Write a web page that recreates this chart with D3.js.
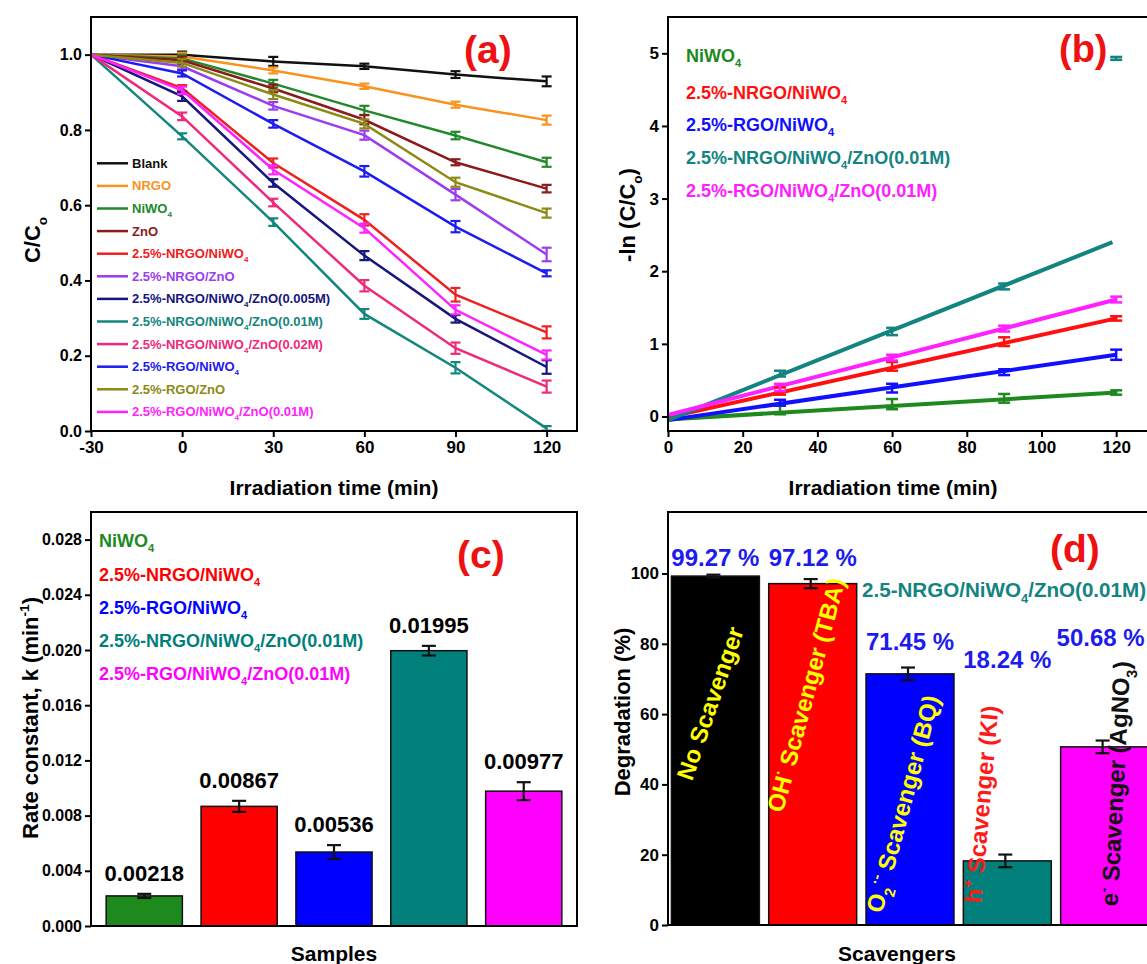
<!DOCTYPE html>
<html>
<head>
<meta charset="utf-8">
<script src="https://cdn.jsdelivr.net/npm/d3@7"></script>
<style>
  body { margin: 0; background: #fff; }
  text { font-family: "Liberation Sans", Arial, sans-serif; font-weight: bold; }
</style>
</head>
<body>
<svg id="chart" width="1147" height="964"></svg>
<script>
// ---------- (a) C/Co vs irradiation time ----------
const timesA = [-30, 0, 30, 60, 90, 120];
const namesA = [
  "Blank", "NRGO", "NiWO_{4}", "ZnO", "2.5%-NRGO/NiWO_{4}", "2.5%-NRGO/ZnO",
  "2.5%-NRGO/NiWO_{4}/ZnO(0.005M)", "2.5%-NRGO/NiWO_{4}/ZnO(0.01M)",
  "2.5%-NRGO/NiWO_{4}/ZnO(0.02M)", "2.5%-RGO/NiWO_{4}", "2.5%-RGO/ZnO",
  "2.5%-RGO/NiWO_{4}/ZnO(0.01M)"
];
const blank        = [1, 1.000, 0.982, 0.969, 0.947, 0.929];
const nrgo         = [1, 0.995, 0.958, 0.916, 0.867, 0.826];
const niwo4        = [1, 0.990, 0.923, 0.852, 0.785, 0.714];
const zno          = [1, 0.985, 0.910, 0.827, 0.714, 0.644];
const nrgoNiwo4    = [1, 0.911, 0.712, 0.561, 0.362, 0.262];
const nrgoZno      = [1, 0.969, 0.864, 0.786, 0.628, 0.469];
const ternary005   = [1, 0.889, 0.659, 0.466, 0.298, 0.170];
const ternary01    = [1, 0.783, 0.555, 0.311, 0.168, 0.007];
const ternary02    = [1, 0.836, 0.607, 0.386, 0.220, 0.118];
const rgoNiwo4     = [1, 0.950, 0.816, 0.690, 0.543, 0.419];
const rgoZno       = [1, 0.978, 0.894, 0.816, 0.661, 0.579];
const rgoTernary   = [1, 0.905, 0.694, 0.539, 0.322, 0.202];

const blankErr      = [0, 0.008, 0.012, 0.007, 0.009, 0.013];
const nrgoErr       = [0, 0.010, 0.008, 0.007, 0.008, 0.012];
const niwo4Err      = [0, 0.010, 0.010, 0.012, 0.010, 0.012];
const znoErr        = [0, 0.010, 0.010, 0.012, 0.008, 0.010];
const nrgoNiwo4Err  = [0, 0.008, 0.012, 0.015, 0.018, 0.016];
const nrgoZnoErr    = [0, 0.008, 0.010, 0.012, 0.015, 0.018];
const ternary005Err = [0, 0.012, 0.010, 0.012, 0.010, 0.018];
const ternary01Err  = [0, 0.008, 0.010, 0.013, 0.015, 0.006];
const ternary02Err  = [0, 0.010, 0.010, 0.015, 0.015, 0.016];
const rgoNiwo4Err   = [0, 0.008, 0.010, 0.014, 0.015, 0.008];
const rgoZnoErr     = [0, 0.010, 0.012, 0.012, 0.012, 0.012];
const rgoTernaryErr = [0, 0.010, 0.012, 0.012, 0.012, 0.012];

const valuesA = [blank, nrgo, niwo4, zno, nrgoNiwo4, nrgoZno, ternary005, ternary01, ternary02, rgoNiwo4, rgoZno, rgoTernary];
const errorsA = [blankErr, nrgoErr, niwo4Err, znoErr, nrgoNiwo4Err, nrgoZnoErr, ternary005Err, ternary01Err, ternary02Err, rgoNiwo4Err, rgoZnoErr, rgoTernaryErr];
const xTicksA = [-30, 0, 30, 60, 90, 120];
const yTicksA = [0, 0.2, 0.4, 0.6, 0.8, 1.0];

// ---------- (b) pseudo-first-order kinetics ----------
const timesB = [30, 60, 90, 120];
const namesB = ["NiWO_{4}", "2.5%-NRGO/NiWO_{4}", "2.5%-RGO/NiWO_{4}", "2.5%-NRGO/NiWO_{4}/ZnO(0.01M)", "2.5%-RGO/NiWO_{4}/ZnO(0.01M)"];
const lnNiwo4      = [0.09, 0.17, 0.25, 0.33];
const lnNrgoNiwo4  = [0.35, 0.69, 1.03, 1.35];
const lnRgoNiwo4   = [0.19, 0.39, 0.61, 0.85];
const lnTernary01  = [0.59, 1.17, 1.79, 4.93];
const lnRgoTernary = [0.40, 0.81, 1.21, 1.61];
const lnNiwo4Err      = [0.06, 0.07, 0.06, 0.03];
const lnNrgoNiwo4Err  = [0.05, 0.06, 0.06, 0.03];
const lnRgoNiwo4Err   = [0.04, 0.06, 0.04, 0.07];
const lnTernary01Err  = [0.04, 0.05, 0.04, 0.02];
const lnRgoTernaryErr = [0.05, 0.04, 0.04, 0.04];
const valuesB = [lnNiwo4, lnNrgoNiwo4, lnRgoNiwo4, lnTernary01, lnRgoTernary];
const errorsB = [lnNiwo4Err, lnNrgoNiwo4Err, lnRgoNiwo4Err, lnTernary01Err, lnRgoTernaryErr];
// linear fits: value at t = 0 and at the end time
const fitStart   = [-0.04, -0.01, -0.05, -0.05, 0.02];
const fitEnd     = [0.33, 1.35, 0.85, 2.40, 1.61];
const fitEndTime = [120, 120, 120, 119, 120];
const xTicksB = [0, 20, 40, 60, 80, 100, 120];
const yTicksB = [0, 1, 2, 3, 4, 5];

// ---------- (c) rate constants ----------
const samplesC = ["NiWO_{4}", "2.5%-NRGO/NiWO_{4}", "2.5%-RGO/NiWO_{4}", "2.5%-NRGO/NiWO_{4}/ZnO(0.01M)", "2.5%-RGO/NiWO_{4}/ZnO(0.01M)"];
const rateK    = [0.00218, 0.00867, 0.00536, 0.01995, 0.00977];
const rateKErr = [0.00015, 0.00040, 0.00050, 0.00035, 0.00065];
const rateLabels = ["0.00218", "0.00867", "0.00536", "0.01995", "0.00977"];
const yTicksC = [0, 0.004, 0.008, 0.012, 0.016, 0.020, 0.024, 0.028];

// ---------- (d) scavenger tests ----------
const scavengers = ["No Scavenger", "OH^{·} Scavenger (TBA)", "O_{2}^{·-} Scavenger (BQ)", "h^{+} Scavenger (KI)", "e^{-} Scavenger (AgNO_{3})"];
const degradation    = [99.27, 97.12, 71.45, 18.24, 50.68];
const degradationErr = [0.4, 1.3, 1.8, 1.8, 1.8];
const degradationLabels = ["99.27 %", "97.12 %", "71.45 %", "18.24 %", "50.68 %"];
const yTicksD = [0, 20, 40, 60, 80, 100];

// ---------- styling ----------
const colorsA = ["#111111", "#f7931e", "#22892a", "#8b1a1a", "#ee2020", "#9b3cf0",
                 "#16167e", "#13867e", "#ee2a7b", "#1c1cf0", "#8a8a14", "#ff22ff"];
const colorsB = ["#1e8a1e", "#ff1010", "#1010ff", "#138480", "#ff20ff"];
const colorsC = ["#1e8a1e", "#ff0000", "#0000ff", "#007f7b", "#ff00ff"];
const colorsD = ["#000000", "#ff0000", "#0000ff", "#007f7b", "#ff00ff"];
const insideColorsD = ["#ffff00", "#ffff00", "#ffff00", "#ff1a1a", "#111111"];
const insideAngles = [-71, -75, -75, -85, -87];
const insideCenters = [[718, 706], [814, 697], [911, 806], [990, 805], [1124, 784]];
const valueLabelY = [566, 566, 650, 668, 646];
const valueLabelDX = [0, 0, 0, 0, -4];

const svg = d3.select("#chart");

// text with _{sub} and ^{sup} markup
function rich(sel, str, size) {
  const parts = str.split(/(_\{[^}]*\}|\^\{[^}]*\})/).filter(s => s.length);
  let shift = 0;
  parts.forEach(p => {
    let target = 0, content = p, fs = size;
    if (p.startsWith("_{")) { target = 0.3 * size; content = p.slice(2, -1); fs = size * 0.62; }
    else if (p.startsWith("^{")) { target = -0.42 * size; content = p.slice(2, -1); fs = size * 0.62; }
    sel.append("tspan").attr("dy", target - shift).attr("font-size", fs).text(content);
    shift = target;
  });
  return sel;
}

function label(g, x, y, str, size, opts = {}) {
  const t = g.append("text")
    .attr("transform", `translate(${x},${y})` + (opts.rotate ? ` rotate(${opts.rotate})` : ""))
    .attr("text-anchor", opts.anchor || "start")
    .attr("fill", opts.fill || "#000")
    .attr("font-size", size);
  rich(t, str, size);
  return t;
}

function frame(g, box) {
  g.append("rect").attr("x", box.l).attr("y", box.t)
    .attr("width", box.r - box.l).attr("height", box.b - box.t)
    .attr("fill", "none").attr("stroke", "#000").attr("stroke-width", 2);
}

function styleAxis(sel, size) {
  sel.select(".domain").remove();
  sel.selectAll(".tick line").attr("stroke", "#000").attr("stroke-width", 2);
  sel.selectAll(".tick text").attr("font-size", size).attr("fill", "#000")
    .attr("font-family", "Liberation Sans, Arial, sans-serif").attr("font-weight", "bold");
}

function errorBar(g, x, y0, y1, half, color, width) {
  g.append("line").attr("x1", x).attr("x2", x).attr("y1", y0).attr("y2", y1)
    .attr("stroke", color).attr("stroke-width", width);
  [y0, y1].forEach(yy => g.append("line").attr("x1", x - half).attr("x2", x + half)
    .attr("y1", yy).attr("y2", yy).attr("stroke", color).attr("stroke-width", width));
}

const plain = d => String(d);

// ================= panel (a) =================
{
  const box = { l: 91, r: 577, t: 17, b: 431 };
  const g = svg.append("g");
  const x = d3.scaleLinear().domain([-30, 130]).range([box.l, box.r]);
  const y = d3.scaleLinear().domain([0, 1.1]).range([box.b, box.t]);
  const line = d3.line().x(d => x(d[0])).y(d => y(d[1]));

  valuesA.forEach((vals, i) => {
    const pts = timesA.map((t, j) => [t, vals[j]]);
    g.append("path").attr("d", line(pts)).attr("fill", "none")
      .attr("stroke", colorsA[i]).attr("stroke-width", 2.5);
    pts.forEach((p, j) => {
      const e = errorsA[i][j];
      if (e > 0) errorBar(g, x(p[0]), y(p[1] + e), y(p[1] - e), 5, colorsA[i], 2.2);
    });
  });

  frame(g, box);
  g.append("g").attr("transform", `translate(0,${box.b})`)
    .call(d3.axisBottom(x).tickValues(xTicksA).tickFormat(plain).tickSize(6).tickPadding(4))
    .call(s => styleAxis(s, 17));
  g.append("g").attr("transform", `translate(${box.l},0)`)
    .call(d3.axisLeft(y).tickValues(yTicksA).tickFormat(d3.format(".1f")).tickSize(6).tickPadding(3))
    .call(s => styleAxis(s, 16));

  // legend
  namesA.forEach((n, i) => {
    const ly = 163.3 + 22.6 * i;
    g.append("line").attr("x1", 97).attr("x2", 128).attr("y1", ly).attr("y2", ly)
      .attr("stroke", colorsA[i]).attr("stroke-width", 2.5);
    label(g, 132, ly + 4.5, n, 13, { fill: colorsA[i] });
  });

  label(g, 464, 63, "(a)", 39, { fill: "#ee1111" });
  label(g, (box.l + box.r) / 2, 495, "Irradiation time (min)", 21, { anchor: "middle" });
  label(g, 40, 240, "C/C_{o}", 22, { anchor: "middle", rotate: -90 });
}

// ================= panel (b) =================
{
  const box = { l: 668, r: 1161, t: 17, b: 431 };
  const g = svg.append("g");
  const x = d3.scaleLinear().domain([0, 132]).range([box.l, box.r]);
  const y = d3.scaleLinear().domain([-0.2, 5.5]).range([box.b, box.t]);

  valuesB.forEach((vals, i) => {
    g.append("line")
      .attr("x1", x(0)).attr("y1", y(fitStart[i]))
      .attr("x2", x(fitEndTime[i])).attr("y2", y(fitEnd[i]))
      .attr("stroke", colorsB[i]).attr("stroke-width", 4);
  });
  valuesB.forEach((vals, i) => {
    vals.forEach((v, j) => {
      const e = errorsB[i][j];
      errorBar(g, x(timesB[j]), y(v + e), y(v - e), 6, colorsB[i], 2.5);
    });
  });

  frame(g, box);
  g.append("g").attr("transform", `translate(0,${box.b})`)
    .call(d3.axisBottom(x).tickValues(xTicksB).tickFormat(plain).tickSize(6).tickPadding(4))
    .call(s => styleAxis(s, 17));
  g.append("g").attr("transform", `translate(${box.l},0)`)
    .call(d3.axisLeft(y).tickValues(yTicksB).tickFormat(plain).tickSize(6).tickPadding(3))
    .call(s => styleAxis(s, 17));

  const legendY = [62, 99, 131, 164, 197];
  namesB.forEach((n, i) => label(g, 686, legendY[i], n, 18, { fill: colorsB[i] }));

  label(g, 1059, 62, "(b)", 38, { fill: "#ee1111" });
  label(g, 893, 495, "Irradiation time (min)", 21, { anchor: "middle" });
  label(g, 635, 215, "-ln (C/C_{o})", 22, { anchor: "middle", rotate: -90 });
}

// ================= panel (c) =================
{
  const box = { l: 91, r: 577, t: 512, b: 926 };
  const g = svg.append("g");
  const x = d3.scaleBand().domain(d3.range(samplesC.length)).range([box.l, box.r])
    .paddingInner(0.197).paddingOuter(0.16);
  const y = d3.scaleLinear().domain([0, 0.030]).range([box.b, box.t]);

  rateK.forEach((v, i) => {
    g.append("rect").attr("x", x(i)).attr("y", y(v))
      .attr("width", x.bandwidth()).attr("height", y(0) - y(v))
      .attr("fill", colorsC[i]).attr("stroke", "#111").attr("stroke-width", 1.5);
    const cx = x(i) + x.bandwidth() / 2;
    errorBar(g, cx, y(v + rateKErr[i]), y(v - rateKErr[i]), 7, "#111", 2.2);
    label(g, cx, y(v + rateKErr[i]) - 13, rateLabels[i], 22, { anchor: "middle" });
  });

  frame(g, box);
  g.append("g").attr("transform", `translate(${box.l},0)`)
    .call(d3.axisLeft(y).tickValues(yTicksC).tickFormat(d3.format(".3f")).tickSize(6).tickPadding(3))
    .call(s => styleAxis(s, 16));

  const legendY = [547, 581, 614, 647, 680];
  samplesC.forEach((n, i) => label(g, 99, legendY[i], n, 18, { fill: colorsC[i] }));

  label(g, 457, 568, "(c)", 39, { fill: "#ee1111" });
  label(g, (box.l + box.r) / 2, 961, "Samples", 21, { anchor: "middle" });
  label(g, 38, 718, "Rate constant, k (min^{-1})", 22, { anchor: "middle", rotate: -90 });
}

// ================= panel (d) =================
{
  const box = { l: 668, r: 1161, t: 512, b: 925 };
  const g = svg.append("g");
  const x = d3.scaleBand().domain(d3.range(scavengers.length)).range([668.5, 1151.5])
    .paddingInner(0.096).paddingOuter(0.03);
  const y = d3.scaleLinear().domain([0, 117.5]).range([box.b, box.t]);

  degradation.forEach((v, i) => {
    g.append("rect").attr("x", x(i)).attr("y", y(v))
      .attr("width", x.bandwidth()).attr("height", y(0) - y(v))
      .attr("fill", colorsD[i]).attr("stroke", "#111").attr("stroke-width", 1.5);
  });
  degradation.forEach((v, i) => {
    const cx = x(i) + x.bandwidth() / 2;
    const [tx, ty] = insideCenters[i];
    label(g, tx, ty, scavengers[i], 24, { anchor: "middle", rotate: insideAngles[i], fill: insideColorsD[i] })
      .attr("dy", "0.35em");
    errorBar(g, cx - 2, y(v + degradationErr[i]), y(v - degradationErr[i]), 7, "#111", 2.2);
  });

  degradation.forEach((v, i) => {
    const cx = x(i) + x.bandwidth() / 2 + valueLabelDX[i];
    label(g, cx, valueLabelY[i], degradationLabels[i], 24, { anchor: "middle", fill: "#1c1cee" });
  });

  label(g, 862, 597, "2.5-NRGO/NiWO_{4}/ZnO(0.01M)", 20.6, { fill: "#138480" });

  frame(g, box);
  g.append("g").attr("transform", `translate(${box.l},0)`)
    .call(d3.axisLeft(y).tickValues(yTicksD).tickFormat(plain).tickSize(6).tickPadding(3))
    .call(s => styleAxis(s, 17));

  label(g, 1050, 562, "(d)", 39, { fill: "#ee1111" });
  label(g, 897, 961, "Scavengers", 21, { anchor: "middle" });
  label(g, 630, 712, "Degradation (%)", 22, { anchor: "middle", rotate: -90 });
}
</script>
</body>
</html>
